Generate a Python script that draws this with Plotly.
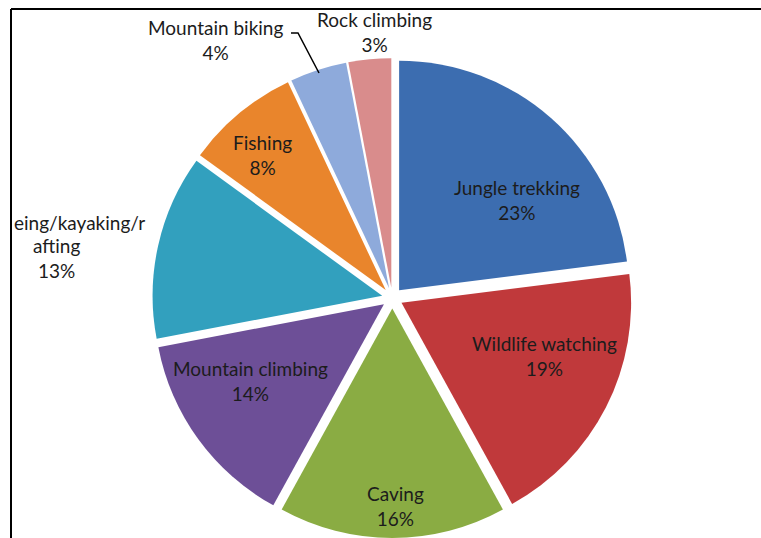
import plotly.graph_objects as go

W, H = 761, 538

# activities, clockwise from 12 o'clock
activities = [
    "Jungle trekking",
    "Wildlife watching",
    "Caving",
    "Mountain climbing",
    "Canoeing/kayaking/rafting",
    "Fishing",
    "Mountain biking",
    "Rock climbing",
]
shares = [23, 19, 16, 14, 13, 8, 4, 3]
slice_colors = [
    "#3c6db0", "#c0393b", "#8aac43", "#6d4f97",
    "#32a0be", "#e9852c", "#8eaadb", "#d98c8c",
]

# label text as it shows in the chart (the canoeing label is cut by the border)
label_lines = {
    "Jungle trekking": ("Jungle trekking<br>23%", 517, 200),
    "Wildlife watching": ("Wildlife watching<br>19%", 544, 356),
    "Caving": ("Caving<br>16%", 395, 506),
    "Mountain climbing": ("Mountain climbing<br>14%", 250, 381),
    "Fishing": ("Fishing<br>8%", 262, 155),
    "Mountain biking": ("Mountain biking<br>4%", 215, 40),
    "Rock climbing": ("Rock climbing<br>3%", 374, 32),
}

FONT = "Lato, 'Open Sans', sans-serif"
TEXT_COLOR = "#1c1c1c"
FONT_SIZE = 19


def px_x(x):
    return x / W


def px_y(y):
    return 1 - y / H


fig = go.Figure(
    go.Pie(
        labels=activities,
        values=shares,
        sort=False,
        direction="clockwise",
        rotation=0,
        pull=[0.045] * len(shares),
        marker=dict(colors=slice_colors, line=dict(width=0)),
        textinfo="none",
        hoverinfo="label+percent",
        domain=dict(x=[0.200, 0.831], y=[0.0, 0.892]),
        showlegend=False,
    )
)

annotations = []
for name, (txt, x, y) in label_lines.items():
    annotations.append(dict(
        text=txt, x=px_x(x), y=px_y(y), xref="paper", yref="paper",
        xanchor="center", yanchor="middle", showarrow=False,
        font=dict(family=FONT, size=FONT_SIZE, color=TEXT_COLOR),
    ))

# canoeing label, clipped at the left edge of the chart area
annotations.append(dict(
    text="eing/kayaking/r", x=px_x(12), y=px_y(222), xref="paper", yref="paper",
    xanchor="left", yanchor="middle", showarrow=False,
    font=dict(family=FONT, size=FONT_SIZE, color=TEXT_COLOR),
))
annotations.append(dict(
    text="afting<br>13%", x=px_x(57), y=px_y(258), xref="paper", yref="paper",
    xanchor="center", yanchor="middle", showarrow=False,
    font=dict(family=FONT, size=FONT_SIZE, color=TEXT_COLOR),
))

shapes = [
    # chart area border (top and left edges visible)
    dict(type="line", xref="paper", yref="paper",
         x0=px_x(11), y0=px_y(9), x1=1.0, y1=px_y(9),
         line=dict(color="black", width=2)),
    dict(type="line", xref="paper", yref="paper",
         x0=px_x(11), y0=px_y(9), x1=px_x(11), y1=0.0,
         line=dict(color="black", width=2)),
    # leader line for mountain biking
    dict(type="path", xref="paper", yref="paper",
         path=f"M {px_x(291)},{px_y(33)} L {px_x(298)},{px_y(33)} L {px_x(319)},{px_y(73)}",
         line=dict(color="black", width=1.5)),
]

fig.update_layout(
    width=W,
    height=H,
    margin=dict(t=0, l=0, r=0, b=0),
    paper_bgcolor="white",
    plot_bgcolor="white",
    font_family=FONT,
    annotations=annotations,
    shapes=shapes,
)

fig.write_html(
    "out.html",
    config={"displayModeBar": False},
    post_script="document.body.style.margin='0';",
)
